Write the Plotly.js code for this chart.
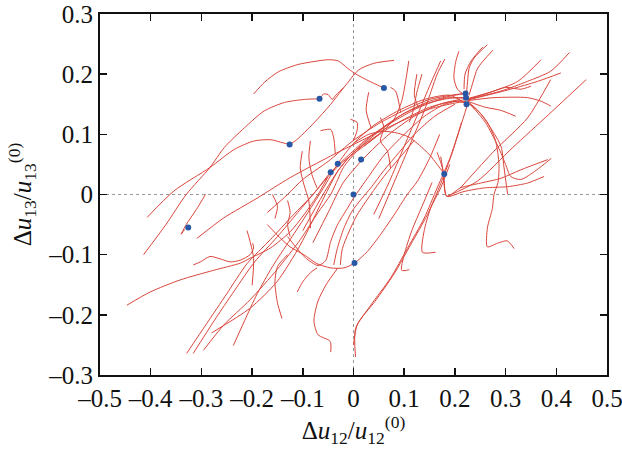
<!DOCTYPE html>
<html><head><meta charset="utf-8">
<script src="https://cdn.plot.ly/plotly-3.0.1.min.js"></script>
<style>html,body{margin:0;padding:0;background:#fff}#chart{width:622px;height:459px}</style>
</head><body><div id="chart"></div>
<script>
// ---- trajectories: [x, y] pairs ----
const arcTop   = [[-0.197,0.167],[-0.175,0.187],[-0.148,0.204],[-0.11,0.216],[-0.078,0.221],[-0.05,0.224],[-0.03,0.222],[-0.012,0.21],[0.005,0.2],[0.032,0.188],[0.06,0.177]];
const hookA    = [[0.08,0.223],[0.04,0.218],[0.01,0.207],[-0.019,0.178],[-0.035,0.165],[-0.042,0.158],[-0.05,0.166],[-0.059,0.167],[-0.067,0.159]];
const leftA    = [[-0.067,0.159],[-0.097,0.158],[-0.136,0.153],[-0.176,0.139],[-0.215,0.111],[-0.255,0.078],[-0.283,0.045],[-0.33,0.0],[-0.37,-0.05],[-0.414,-0.10]];
const leftB    = [[-0.407,-0.038],[-0.354,0.006],[-0.283,0.045],[-0.235,0.075],[-0.196,0.089],[-0.163,0.091],[-0.127,0.084],[-0.115,0.089],[-0.078,0.119],[-0.045,0.150],[-0.019,0.178]];
const vLeft    = [[-0.292,0.0],[-0.31,-0.025],[-0.33,-0.05],[-0.34,-0.066],[-0.333,-0.058]];
const longMid  = [[-0.309,-0.073],[-0.256,-0.039],[-0.190,-0.006],[-0.125,0.028],[-0.045,0.064],[0,0.083],[0.05,0.104],[0.1,0.124],[0.15,0.142],[0.2,0.152],[0.222,0.155]];
const longLow  = [[-0.447,-0.184],[-0.401,-0.162],[-0.342,-0.142],[-0.276,-0.126],[-0.223,-0.114],[-0.204,-0.106],[-0.164,-0.089],[-0.125,-0.062],[-0.098,-0.034],[-0.07,0.0],[-0.05,0.03]];
const wigLow   = [[-0.316,-0.117],[-0.302,-0.112],[-0.283,-0.103],[-0.263,-0.107],[-0.243,-0.112],[-0.223,-0.109],[-0.204,-0.1],[-0.197,-0.089],[-0.199,-0.081]];
const bund1    = [[-0.329,-0.264],[-0.29,-0.215],[-0.25,-0.165],[-0.21,-0.115],[-0.164,-0.075],[-0.12,-0.035],[-0.08,0.0],[-0.05,0.03],[-0.02,0.055],[0.02,0.08],[0.06,0.105],[0.1,0.125],[0.15,0.145],[0.2,0.155],[0.222,0.152]];
const bund2    = [[-0.316,-0.264],[-0.275,-0.21],[-0.235,-0.16],[-0.195,-0.112],[-0.15,-0.07],[-0.11,-0.03],[-0.075,0.005],[-0.045,0.037],[-0.01,0.065],[0.03,0.095],[0.08,0.122],[0.13,0.145],[0.18,0.16],[0.222,0.161]];
const bund3    = [[-0.296,-0.259],[-0.256,-0.217],[-0.204,-0.175],[-0.151,-0.125],[-0.105,-0.075],[-0.07,-0.03],[-0.045,0.0],[-0.031,0.025],[-0.02,0.045],[0.01,0.075],[0.05,0.105],[0.1,0.135],[0.15,0.155],[0.2,0.165],[0.222,0.168]];
const bund4    = [[-0.237,-0.251],[-0.215,-0.21],[-0.19,-0.165],[-0.16,-0.12],[-0.125,-0.075],[-0.09,-0.03],[-0.06,0.01],[-0.031,0.051],[0.0,0.085],[0.04,0.115],[0.09,0.14],[0.14,0.158],[0.19,0.165],[0.223,0.15]];
const bund5    = [[-0.28,-0.23],[-0.204,-0.189],[-0.151,-0.145],[-0.105,-0.084],[-0.059,-0.006],[-0.03,0.04],[0.0,0.07],[0.05,0.1]];
const bund6    = [[-0.17,-0.03],[-0.13,0.0],[-0.1,0.025],[-0.05,0.055],[0.0,0.09],[0.05,0.118],[0.1,0.14],[0.15,0.158],[0.2,0.166],[0.221,0.168]];
const bund7    = [[-0.1,-0.06],[-0.06,0.0],[-0.03,0.04],[0.0,0.07],[0.04,0.1],[0.09,0.13],[0.14,0.15],[0.19,0.16],[0.222,0.16]];
const bund8    = [[-0.08,-0.08],[-0.05,-0.03],[-0.02,0.02],[0.02,0.06],[0.07,0.1],[0.12,0.13],[0.17,0.15],[0.21,0.158]];
const loopOut  = [[-0.17,-0.05],[-0.145,-0.072],[-0.125,-0.087],[-0.098,-0.1],[-0.072,-0.115],[-0.045,-0.122],[-0.019,-0.122],[0.002,-0.114],[0.027,-0.095],[0.053,-0.067],[0.080,-0.034],[0.106,0.0],[0.126,0.022],[0.15,0.06],[0.17,0.1]];
const loopIn1  = [[-0.13,-0.07],[-0.095,-0.105],[-0.07,-0.118],[-0.055,-0.11],[-0.045,-0.078],[-0.032,-0.051],[-0.012,-0.023],[0.0,-0.006],[0.03,0.03],[0.06,0.065],[0.1,0.1],[0.14,0.13],[0.18,0.15],[0.222,0.158]];
const loopIn2  = [[-0.039,-0.117],[-0.032,-0.09],[-0.019,-0.056],[-0.003,-0.028],[0.017,-0.006],[0.034,0.011],[0.06,0.04],[0.09,0.07],[0.12,0.1],[0.16,0.13],[0.2,0.15]];
const loopIn3  = [[-0.026,-0.117],[-0.022,-0.09],[-0.009,-0.062],[0.007,-0.034],[0.034,0.0],[0.06,0.03],[0.09,0.06],[0.12,0.09]];
const botHook  = [[-0.045,-0.262],[-0.046,-0.244],[-0.07,-0.233],[-0.078,-0.21],[-0.07,-0.177],[-0.054,-0.15],[-0.031,-0.122]];
const botShort = [[-0.111,-0.162],[-0.1,-0.145],[-0.085,-0.13],[-0.072,-0.122]];
const botCurl  = [[-0.141,-0.206],[-0.15,-0.18],[-0.155,-0.145],[-0.15,-0.12],[-0.13,-0.1]];
const rise1    = [[0.004,-0.27],[0.004,-0.223],[0.034,-0.184],[0.073,-0.139],[0.106,-0.09],[0.139,-0.04],[0.165,0.011],[0.19,0.06],[0.21,0.11],[0.225,0.15]];
const rise2    = [[0.0,-0.25],[0.008,-0.215],[0.042,-0.178],[0.08,-0.132],[0.113,-0.083],[0.146,-0.033],[0.172,0.018],[0.195,0.07],[0.213,0.12]];
const lShape   = [[0.162,-0.096],[0.136,-0.096],[0.139,-0.062],[0.152,-0.023],[0.172,0.011],[0.19,0.05]];
const footR    = [[0.11,-0.125],[0.095,-0.126],[0.1,-0.1],[0.115,-0.06],[0.135,-0.02],[0.155,0.02]];
const steep1   = [[0.04,-0.033],[0.07,0.02],[0.1,0.08],[0.13,0.14],[0.155,0.19],[0.172,0.222]];
const steep2   = [[0.05,-0.04],[0.08,0.02],[0.11,0.08],[0.14,0.14],[0.165,0.2],[0.18,0.225]];
const steep3   = [[0.135,0.2],[0.125,0.17],[0.118,0.14],[0.11,0.12]];
const topIn1   = [[0.264,0.249],[0.238,0.227],[0.228,0.21],[0.225,0.188],[0.223,0.169]];
const topIn2   = [[0.255,0.245],[0.232,0.222],[0.22,0.2],[0.218,0.175]];
const topIn3   = [[0.208,0.238],[0.202,0.222],[0.198,0.194],[0.205,0.175],[0.22,0.165]];
const topIn4   = [[0.275,0.24],[0.245,0.21],[0.235,0.185],[0.228,0.165]];
const fan1     = [[0.225,0.158],[0.277,0.172],[0.324,0.188],[0.370,0.224]];
const fan2     = [[0.225,0.158],[0.291,0.172],[0.343,0.188],[0.389,0.205],[0.426,0.236]];
const fan3     = [[0.225,0.157],[0.310,0.175],[0.363,0.188],[0.409,0.202]];
const fan4     = [[0.225,0.156],[0.277,0.161],[0.343,0.161],[0.370,0.155],[0.389,0.147]];
const fan5     = [[0.225,0.155],[0.26,0.145],[0.29,0.14],[0.32,0.13]];
const fan6     = [[0.228,0.16],[0.27,0.17],[0.3,0.178],[0.33,0.175],[0.35,0.18]];
const down1    = [[0.225,0.155],[0.245,0.14],[0.264,0.12],[0.28,0.09],[0.287,0.05],[0.285,0.02],[0.277,0.0],[0.274,-0.023],[0.264,-0.056],[0.264,-0.087],[0.284,-0.081],[0.303,-0.077],[0.317,-0.09]];
const down2    = [[0.226,0.152],[0.25,0.135],[0.271,0.11],[0.291,0.08],[0.297,0.044],[0.304,0.0]];
const down3    = [[0.23,0.15],[0.26,0.12],[0.285,0.08],[0.3,0.05],[0.31,0.03],[0.33,0.025],[0.36,0.04],[0.39,0.06]];
const vee1     = [[0.172,0.063],[0.178,0.033],[0.184,-0.003],[0.218,0.005],[0.258,0.011],[0.304,0.013],[0.343,0.019],[0.376,0.03]];
const vee2     = [[0.165,0.07],[0.175,0.045],[0.184,-0.003],[0.211,0.011],[0.251,0.019],[0.291,0.027],[0.330,0.041],[0.383,0.058]];
const humpArc  = [[0.0,0.085],[0.03,0.1],[0.06,0.105],[0.087,0.102],[0.11,0.095],[0.13,0.082],[0.15,0.066],[0.165,0.05],[0.179,0.034]];
const farR1    = [[0.185,-0.003],[0.244,0.022],[0.314,0.078],[0.385,0.133],[0.459,0.191]];
const farR2    = [[0.211,0.011],[0.277,0.072],[0.343,0.127],[0.389,0.191]];
const wig1     = [[-0.065,0.106],[-0.045,0.108],[-0.039,0.094],[-0.036,0.067]];
const wig2     = [[-0.085,0.089],[-0.088,0.061],[-0.082,0.033],[-0.072,0.011]];
const wig3     = [[-0.101,0.072],[-0.105,0.044],[-0.098,0.017],[-0.088,-0.011],[-0.085,-0.056]];
const wig4     = [[-0.006,0.125],[0.007,0.12],[0.007,0.106],[0.0,0.09]];
const wig5     = [[0.053,0.128],[0.06,0.111],[0.053,0.089],[0.067,0.072],[0.073,0.044]];
const wig6     = [[0.073,0.178],[0.083,0.172],[0.093,0.136]];
const wig7     = [[0.109,0.222],[0.103,0.189],[0.095,0.155],[0.08,0.125],[0.05,0.1],[0.02,0.08]];
const wig8     = [[-0.13,-0.01],[-0.125,-0.03],[-0.13,-0.05],[-0.125,-0.07]];
const wig9     = [[-0.16,0.0],[-0.15,-0.02],[-0.155,-0.04]];
const wig10    = [[-0.21,-0.06],[-0.204,-0.078],[-0.197,-0.106],[-0.2,-0.151]];
const wig11    = [[0.03,0.17],[0.025,0.14],[0.035,0.11]];
const wig12    = [[0.125,0.2],[0.12,0.165],[0.128,0.145]];

const trajectories = [arcTop,hookA,leftA,leftB,vLeft,longMid,longLow,wigLow,bund1,bund2,bund3,bund4,bund5,bund6,bund7,bund8,
  loopOut,loopIn1,loopIn2,loopIn3,botHook,botShort,botCurl,rise1,rise2,lShape,footR,steep1,steep2,steep3,
  topIn1,topIn2,topIn3,topIn4,fan1,fan2,fan3,fan4,fan5,fan6,down1,down2,down3,vee1,vee2,humpArc,farR1,farR2,
  wig1,wig2,wig3,wig4,wig5,wig6,wig7,wig8,wig9,wig10,wig11,wig12];

// ---- starting points (blue dots) ----
const dotX = [0.060,-0.067,-0.126,-0.031,-0.045,0.015,0.000,0.002,-0.326,0.179,0.221,0.222,0.223];
const dotY = [0.177,0.159,0.083,0.051,0.037,0.058,0.000,-0.114,-0.055,0.034,0.168,0.161,0.150];

const xTicks = [-0.5,-0.4,-0.3,-0.2,-0.1,0,0.1,0.2,0.3,0.4,0.5];
const yTicks = [-0.3,-0.2,-0.1,0,0.1,0.2,0.3];

const RED = 'rgb(218,70,60)';
const BLUE = 'rgb(40,88,165)';
const traces = trajectories.map(p => ({
  type:'scatter', mode:'lines', x:p.map(q=>q[0]), y:p.map(q=>q[1]),
  line:{color:RED, width:1, shape:'spline', smoothing:0.7},
  hoverinfo:'skip', showlegend:false
}));
traces.push({type:'scatter', mode:'markers', x:dotX, y:dotY,
  marker:{color:BLUE, size:6}, hoverinfo:'skip', showlegend:false});

const fontF = '"Liberation Serif", "Times New Roman", serif';
const tickLbl = v => v === 0 ? '0' : (v < 0 ? '\u2013' + Math.abs(v).toFixed(1) : v.toFixed(1));
const axisBase = {
  showgrid:false, zeroline:false, showline:true, linecolor:'#111', linewidth:2,
  ticks:'inside', ticklen:7, tickwidth:1.5, tickcolor:'#111', mirror:'ticks',
  ticklabeloverflow:'allow',
  tickfont:{family:fontF, size:25, color:'#111'}, automargin:false
};
const layout = {
  width:622, height:459, margin:{l:100, r:15, t:14, b:84},
  paper_bgcolor:'#fff', plot_bgcolor:'#fff', showlegend:false,
  xaxis:Object.assign({}, axisBase, {range:[-0.5,0.5], tickvals:xTicks, ticktext:xTicks.map(tickLbl),
    title:{text:'\u0394<i>u</i><sub>12</sub>/<i>u</i><sub>12</sub><sup>(0)</sup>', font:{family:fontF, size:25, color:'#111'}, standoff:10}}),
  yaxis:Object.assign({}, axisBase, {range:[-0.3,0.3], tickvals:yTicks, ticktext:yTicks.map(tickLbl),
    title:{text:'\u0394<i>u</i><sub>13</sub>/<i>u</i><sub>13</sub><sup>(0)</sup>', font:{family:fontF, size:25, color:'#111'}, standoff:10}}),
  shapes:[
    {type:'line', xref:'x', yref:'paper', x0:0, x1:0, y0:0, y1:1, layer:'below', line:{color:'#999', width:1, dash:'dot'}},
    {type:'line', xref:'paper', yref:'y', x0:0, x1:1, y0:0, y1:0, layer:'below', line:{color:'#999', width:1, dash:'dot'}}
  ]
};
Plotly.newPlot('chart', traces, layout, {staticPlot:true, displayModeBar:false});
</script></body></html>
